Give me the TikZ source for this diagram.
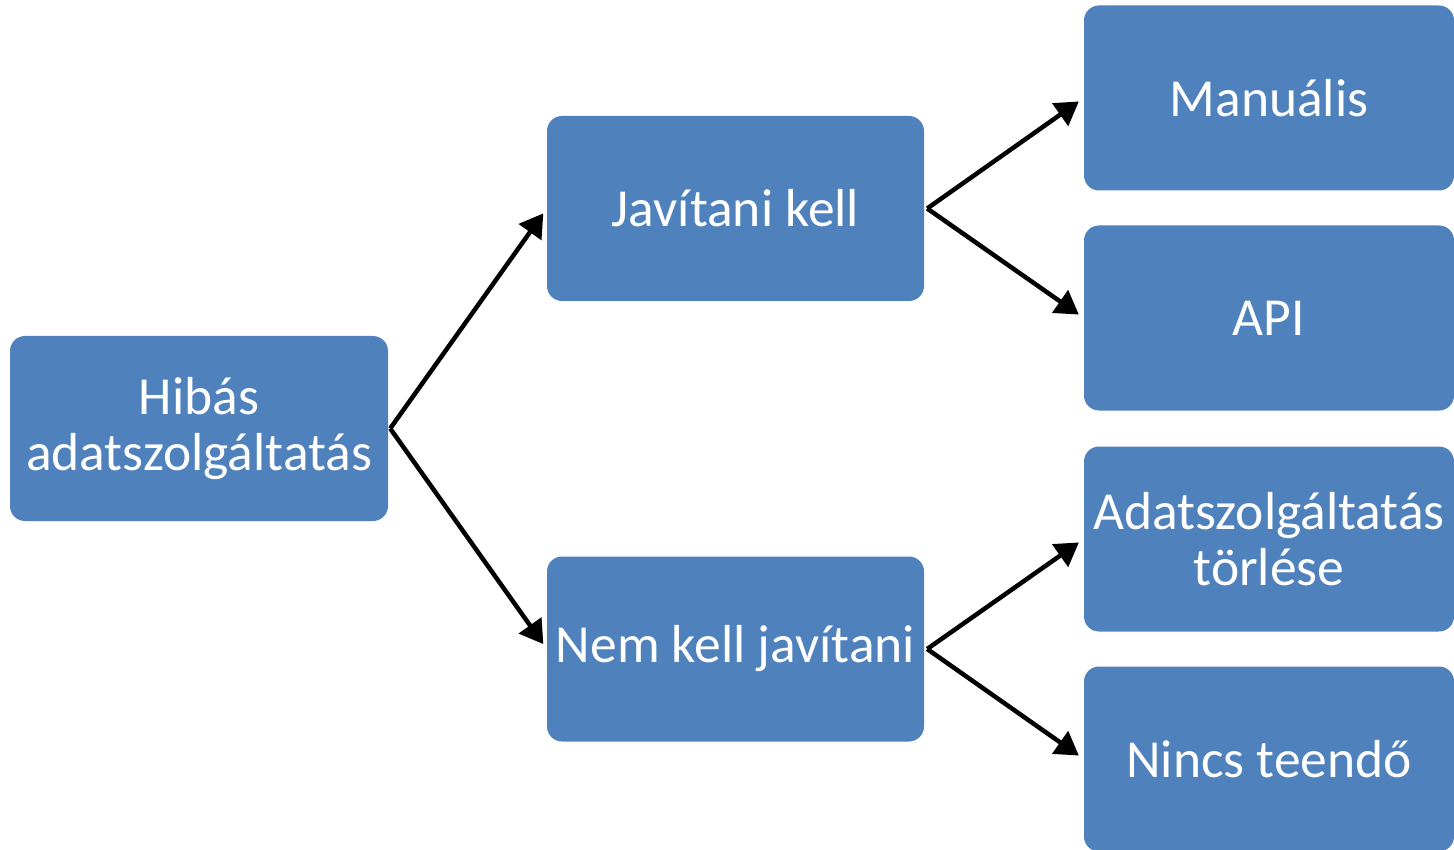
\documentclass[tikz,border=0pt]{standalone}
\usepackage{fontspec}
\setmainfont{Carlito}
\usetikzlibrary{arrows.meta}
\definecolor{boxblue}{HTML}{4F81BD}

\tikzset{
  stepbox/.style={fill=boxblue, rounded corners=15pt, text=white, align=center,
    inner sep=0pt, minimum height=185pt, font=\fontsize{53.5}{56}\selectfont},
  flow/.style={-{Triangle[length=23pt,width=27pt]}, line width=4.5pt, shorten >=6pt}
}

\begin{document}
\begin{tikzpicture}[x=1pt,y=-1pt]
\useasboundingbox (0,0) rectangle (1454,850);
% first level
\node[stepbox, minimum width=378pt] (hibas) at (199,428.5) {Hibás\\adatszolgáltatás};
% second level
\node[stepbox, minimum width=377pt] (javit) at (735.5,208.5) {Javítani kell};
\node[stepbox, minimum width=377pt] (nemjav) at (735.5,649) {Nem kell javítani};
% third level
\node[stepbox, minimum width=370pt] (manual) at (1269,98) {Manuális};
\node[stepbox, minimum width=370pt] (api) at (1269,318) {API};
\node[stepbox, minimum width=370pt] (torles) at (1269,539) {Adatszolgáltatás\\törlése};
\node[stepbox, minimum width=370pt] (nincs) at (1269,759) {Nincs teendő};
% connectors
\draw[flow] ([xshift=2pt]hibas.east) -- (javit.west);
\draw[flow] ([xshift=2pt]hibas.east) -- (nemjav.west);
\draw[flow] ([xshift=3pt]javit.east) -- (manual.west);
\draw[flow] ([xshift=3pt]javit.east) -- (api.west);
\draw[flow] ([xshift=3pt]nemjav.east) -- (torles.west);
\draw[flow] ([xshift=3pt]nemjav.east) -- (nincs.west);
\end{tikzpicture}
\end{document}
